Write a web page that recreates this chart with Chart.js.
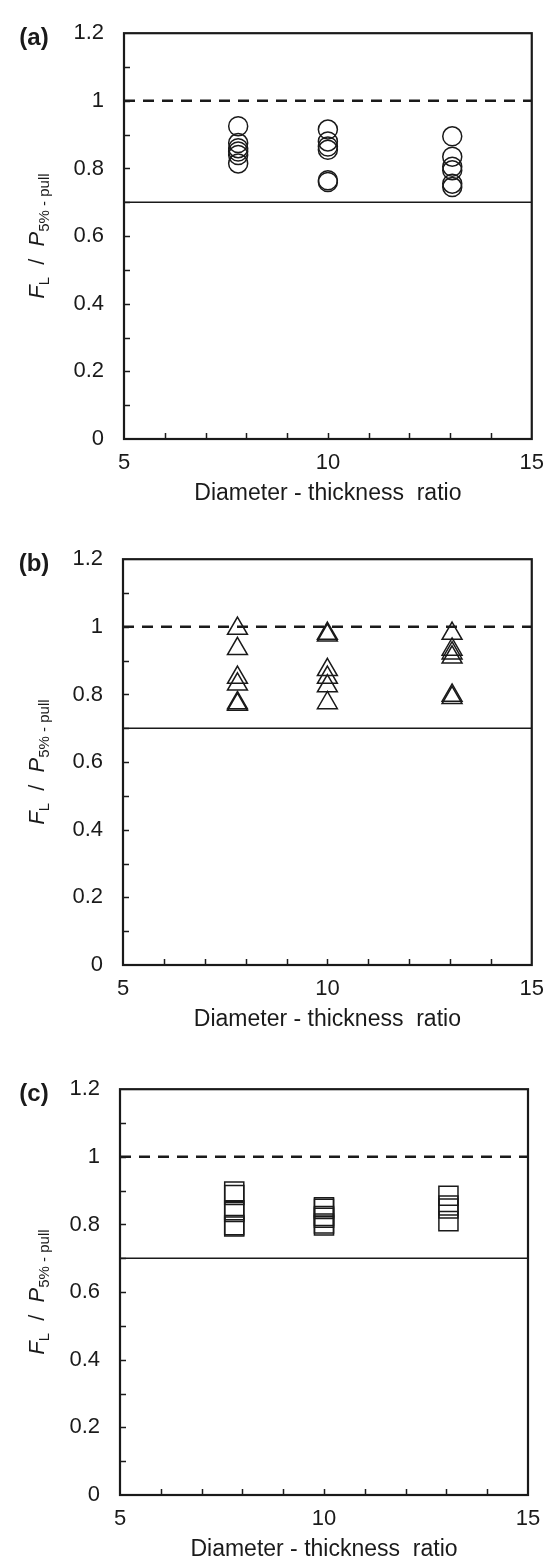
<!DOCTYPE html>
<html>
<head>
<meta charset="utf-8">
<script src="https://cdn.jsdelivr.net/npm/chart.js@4.4.1/dist/chart.umd.min.js"></script>
<style>
  body { margin: 0; background: #fff; width: 555px; height: 1560px; overflow: hidden; position: relative; }
  .panel { position: absolute; left: 0; width: 555px; height: 520px; }
</style>
</head>
<body>
<div class="panel" style="top:0px"><canvas id="chartA" width="555" height="520"></canvas></div>
<div class="panel" style="top:526px"><canvas id="chartB" width="555" height="520"></canvas></div>
<div class="panel" style="top:1056px"><canvas id="chartC" width="555" height="520"></canvas></div>
<script>
// diameter-thickness ratios of the tested groups
const ratios = [7.8, 10, 13.05];

// F_L / P_5%-pull for each ratio group
const circleValues = [
  [0.925, 0.875, 0.86, 0.85, 0.84, 0.815],
  [0.915, 0.88, 0.865, 0.855, 0.765, 0.76],
  [0.895, 0.835, 0.805, 0.795, 0.755, 0.745]
];
const triangleValues = [
  [0.995, 0.935, 0.85, 0.83, 0.775, 0.77],
  [0.98, 0.975, 0.873, 0.85, 0.825, 0.775],
  [0.98, 0.933, 0.922, 0.91, 0.797, 0.79]
];
const squareValues = [
  [0.897, 0.887, 0.842, 0.837, 0.798, 0.794],
  [0.851, 0.846, 0.825, 0.82, 0.803, 0.797],
  [0.885, 0.856, 0.847, 0.81]
];

const xRange = [5, 15];
const yRange = [0, 1.2];
const upperLimit = 1.0;
const lowerLimit = 0.7;

const INK = "#1a1a1a";
const FONT = "'Liberation Sans', Arial, sans-serif";

function toPoints(groups) {
  let pts = [];
  groups.forEach((vals, i) => {
    vals.forEach((v) => pts.push({ x: ratios[i], y: v }));
  });
  return pts;
}

// frame, inward minor ticks and the text that chart.js can't lay out itself
const decorations = {
  id: "decorations",
  afterDraw(chart, args, opts) {
    const ctx = chart.ctx;
    const a = chart.chartArea;
    const xs = chart.scales.x;
    const ys = chart.scales.y;
    ctx.save();
    ctx.strokeStyle = INK;
    ctx.lineWidth = 1.5;
    for (let v = 0.1; v < 1.2; v += 0.1) {
      const py = Math.round(ys.getPixelForValue(v)) + 0.5;
      ctx.beginPath();
      ctx.moveTo(a.left, py);
      ctx.lineTo(a.left + 6, py);
      ctx.stroke();
    }
    for (let v = 6; v < 15; v++) {
      const px = Math.round(xs.getPixelForValue(v)) + 0.5;
      ctx.beginPath();
      ctx.moveTo(px, a.bottom);
      ctx.lineTo(px, a.bottom - 6);
      ctx.stroke();
    }
    ctx.lineWidth = 2.2;
    ctx.strokeRect(a.left, a.top, a.right - a.left, a.bottom - a.top);

    ctx.fillStyle = INK;
    // panel letter
    ctx.font = "bold 24px " + FONT;
    ctx.textAlign = "center";
    ctx.textBaseline = "middle";
    ctx.fillText(opts.letter, 34, a.top + 5);

    // x axis title
    ctx.font = "23px " + FONT;
    ctx.fillText("Diameter - thickness  ratio", (a.left + a.right) / 2, a.bottom + 55);

    // y axis title, rotated, with subscripts
    const parts = [
      { t: "F", f: "italic 22px " + FONT, dy: 0 },
      { t: "L", f: "15px " + FONT, dy: 5 },
      { t: "  /  ", f: "22px " + FONT, dy: 0 },
      { t: "P", f: "italic 22px " + FONT, dy: 0 },
      { t: "5% - pull", f: "15px " + FONT, dy: 5 }
    ];
    let total = 0;
    parts.forEach((p) => { ctx.font = p.f; p.w = ctx.measureText(p.t).width; total += p.w; });
    ctx.translate(44, (a.top + a.bottom) / 2);
    ctx.rotate(-Math.PI / 2);
    ctx.textAlign = "left";
    ctx.textBaseline = "alphabetic";
    let cx = -total / 2;
    parts.forEach((p) => {
      ctx.font = p.f;
      ctx.fillText(p.t, cx, p.dy);
      cx += p.w;
    });
    ctx.restore();
  }
};

function makePanel(id, letter, values, style, radius, plotLeft, plotRight) {
  const plotTop = 21;
  const plotBottom = 439;
  const refLine = (y, dash, width) => ({
    data: [{ x: xRange[0], y: y }, { x: xRange[1], y: y }],
    showLine: true,
    borderColor: INK,
    borderWidth: width,
    borderDash: dash,
    pointRadius: 0,
    order: 2
  });
  new Chart(document.getElementById(id), {
    type: "scatter",
    data: {
      datasets: [
        {
          data: toPoints(values),
          pointStyle: style,
          pointRadius: radius,
          pointBorderWidth: 1.5,
          pointBorderColor: INK,
          pointBackgroundColor: "rgba(0,0,0,0)",
          order: 1
        },
        refLine(upperLimit, [11, 8], 2.5),
        refLine(lowerLimit, [], 1.5)
      ]
    },
    options: {
      responsive: false,
      animation: false,
      layout: { padding: { top: plotTop, right: 555 - plotRight, left: 0, bottom: 0 } },
      plugins: {
        legend: { display: false },
        tooltip: { enabled: false },
        decorations: { letter: letter }
      },
      scales: {
        x: {
          type: "linear",
          min: xRange[0],
          max: xRange[1],
          grid: { display: false, drawTicks: false },
          border: { display: false },
          ticks: { stepSize: 5, padding: 11, color: INK, font: { family: FONT, size: 22 } },
          afterFit: (scale) => { scale.height = 520 - plotBottom; }
        },
        y: {
          min: yRange[0],
          max: yRange[1],
          grid: { display: false, drawTicks: false },
          border: { display: false },
          ticks: {
            stepSize: 0.2,
            padding: 20,
            color: INK,
            font: { family: FONT, size: 22 },
            callback: (v) => String(Number(v.toFixed(1)))
          },
          afterFit: (scale) => { scale.width = plotLeft; }
        }
      }
    },
    plugins: [decorations]
  });
}

makePanel("chartA", "(a)", circleValues, "circle", 9.5, 124, 532);
makePanel("chartB", "(b)", triangleValues, "triangle", 11.5, 123, 532);
makePanel("chartC", "(c)", squareValues, "rect", 13.5, 120, 528);
</script>
</body>
</html>
